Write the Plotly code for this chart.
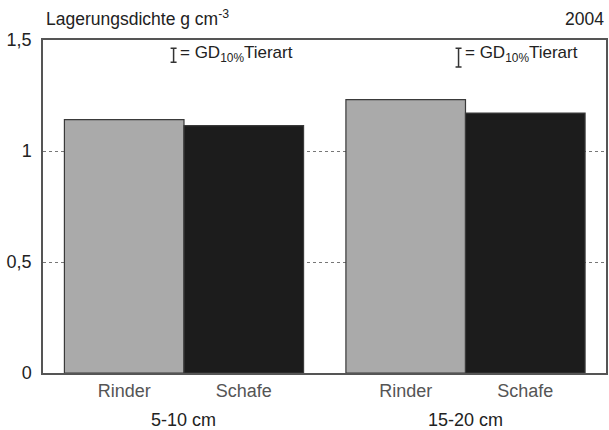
import plotly.graph_objects as go

# Bulk density by depth and animal type
depths = ["5-10 cm", "15-20 cm"]
animals = ["Rinder", "Schafe"]
rinder = [1.141, 1.231]
schafe = [1.114, 1.171]
lsd = [0.063, 0.085]          # GD 10 % Tierart, one per depth
year = "2004"

# bar centres: two bars per depth, wider gap between depths
group_start = [1.0, 3.354]
x_r = [g for g in group_start]
x_s = [g + 1.0 for g in group_start]

font = "Liberation Sans, Arial, sans-serif"

fig = go.Figure()
fig.add_bar(x=x_r, y=rinder, width=1.0, marker=dict(color="#aaaaaa", line=dict(color="#3a3a3a", width=1.2)),
            showlegend=False, hoverinfo="y")
fig.add_bar(x=x_s, y=schafe, width=1.0, marker=dict(color="#1c1c1c", line=dict(color="#3a3a3a", width=1.2)),
            showlegend=False, hoverinfo="y")

# LSD keys drawn as error-bar symbols in the top of the panel
key_x = [1.413, 3.796]
key_top = 1.463
fig.add_scatter(x=key_x, y=[key_top - v / 2 for v in lsd], mode="markers",
                marker=dict(size=1, color="rgba(0,0,0,0)"),
                error_y=dict(type="data", array=[v / 2 for v in lsd], symmetric=True,
                             color="#333333", thickness=1.5, width=3),
                showlegend=False, hoverinfo="skip")

for kx in key_x:
    fig.add_annotation(x=kx + 0.035, y=1.437, xref="x", yref="y", xanchor="left", yanchor="middle",
                       text="= GD<sub>10%</sub>Tierart", showarrow=False,
                       font=dict(family=font, size=17, color="#222222"))

for gx, label in zip(group_start, depths):
    fig.add_annotation(x=gx + 0.5, y=-0.14, xref="x", yref="paper", xanchor="center", yanchor="middle",
                       text=label, showarrow=False, font=dict(family=font, size=18, color="#222222"))

# panel header: quantity with unit on the left, year on the right
fig.add_annotation(x=0.002, y=1.0, xref="paper", yref="paper", text="Lagerungsdichte g cm<sup>-3</sup>",
                   showarrow=False, xanchor="left", yanchor="bottom", yshift=9,
                   font=dict(family=font, size=17.5, color="#222222"))
fig.add_annotation(x=1.0, y=1.0, xref="paper", yref="paper", text=year, showarrow=False,
                   xanchor="right", yanchor="bottom", yshift=9,
                   font=dict(family=font, size=17.5, color="#222222"))

fig.update_layout(
    width=609, height=430,
    margin=dict(l=43, r=1, t=40, b=57),
    paper_bgcolor="white", plot_bgcolor="white",
    barmode="overlay",
    xaxis=dict(range=[0.321, 5.029], tickvals=x_r + x_s, ticktext=animals[:1] * 2 + animals[1:] * 2,
               showgrid=False, zeroline=False, showline=True, mirror=True, linecolor="#555555", linewidth=1.5,
               ticks="", tickfont=dict(family=font, size=18, color="#555555"), ticklabelstandoff=1),
    yaxis=dict(range=[0, 1.5], tickvals=[0, 0.5, 1, 1.5], ticktext=["0", "0,5", "1", "1,5"],
               showgrid=True, gridcolor="#777777", griddash="dot", gridwidth=1,
               zeroline=False, showline=True, mirror=True, linecolor="#555555", linewidth=1.5,
               ticks="", tickfont=dict(family=font, size=18, color="#222222"), ticklabelstandoff=6),
)

fig.write_html("out.html")
